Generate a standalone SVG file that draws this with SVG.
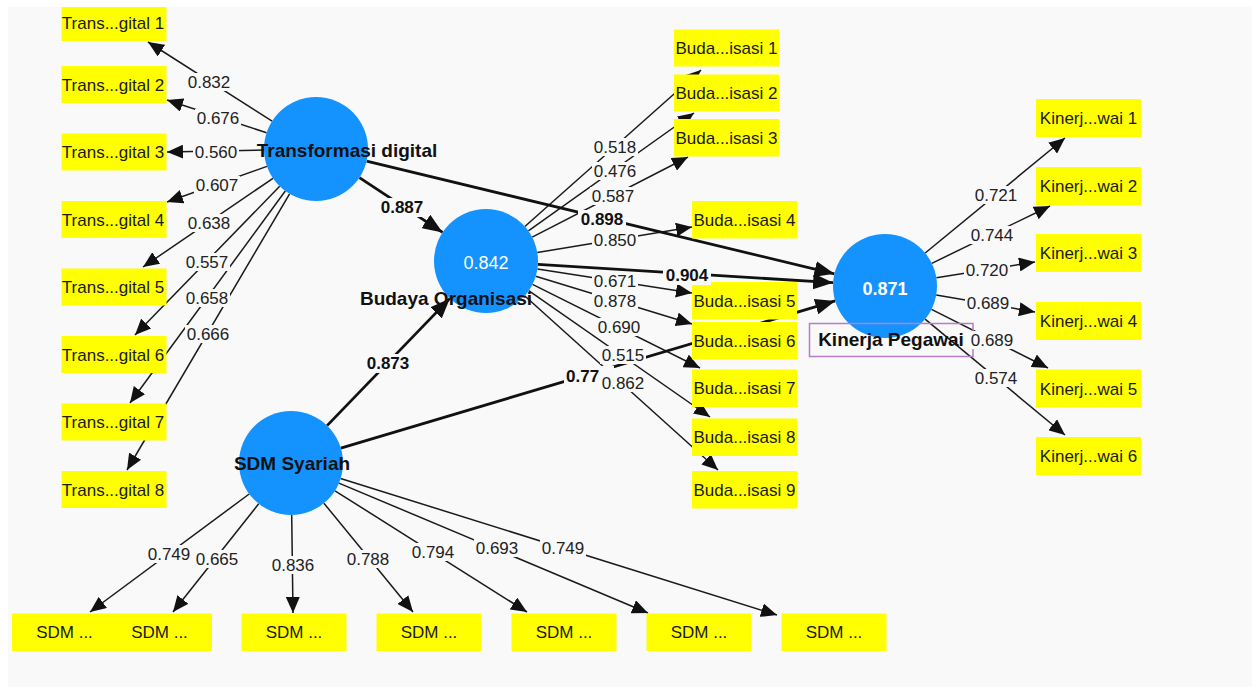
<svg xmlns="http://www.w3.org/2000/svg" width="1253" height="687" viewBox="0 0 1253 687">
<style>
.ind{fill:#ffff00}
.it{font-family:"Liberation Sans",Arial,sans-serif;font-size:17px;fill:#1a1a1a;text-anchor:middle}
.lv{fill:#1493ff}
.nm{font-family:"Liberation Sans",Arial,sans-serif;font-size:19px;font-weight:bold;fill:#111;text-anchor:middle}
.r2{font-family:"Liberation Sans",Arial,sans-serif;font-size:18px;fill:#fff;text-anchor:middle}
.ln{stroke:#1a1a1a;stroke-width:1.5;fill:none;marker-end:url(#ah)}
.lb{stroke:#111;stroke-width:2.8;fill:none;marker-end:url(#ahb)}
.bg{fill:#f9f9f9}
.lab{font-family:"Liberation Sans",Arial,sans-serif;font-size:17px;fill:#222;text-anchor:middle}
.labb{font-family:"Liberation Sans",Arial,sans-serif;font-size:17px;font-weight:bold;fill:#111;text-anchor:middle}
</style>
<defs>
<marker id="ah" markerUnits="userSpaceOnUse" markerWidth="16" markerHeight="14" refX="16" refY="7" orient="auto"><path d="M0,0 L16,7 L0,14 z" fill="#111"/></marker>
<marker id="ahb" markerUnits="userSpaceOnUse" markerWidth="20" markerHeight="16" refX="20" refY="8" orient="auto"><path d="M0,0 L20,8 L0,16 z" fill="#111"/></marker>
</defs>
<rect x="8" y="7" width="1244" height="680" fill="#f9f9f9"/>
<g id="connectors">
<line class="ln" x1="272.1" y1="121.1" x2="148" y2="42"/>
<line class="ln" x1="266.6" y1="132.8" x2="167" y2="100"/>
<line class="ln" x1="264" y1="150" x2="167" y2="152"/>
<line class="ln" x1="267" y1="166.4" x2="167" y2="202"/>
<line class="ln" x1="273" y1="178.3" x2="143" y2="267"/>
<line class="ln" x1="279.7" y1="186.3" x2="135" y2="335"/>
<line class="ln" x1="285.3" y1="191" x2="130" y2="403"/>
<line class="ln" x1="289.6" y1="193.8" x2="127" y2="470"/>
<line class="ln" x1="524.9" y1="226.5" x2="701" y2="70"/>
<line class="ln" x1="528.4" y1="230.9" x2="694" y2="113"/>
<line class="ln" x1="532.2" y1="237.2" x2="688" y2="157"/>
<line class="ln" x1="537.3" y1="252.5" x2="692" y2="227"/>
<line class="ln" x1="537.4" y1="269" x2="692" y2="293"/>
<line class="ln" x1="535.7" y1="276.2" x2="692" y2="324"/>
<line class="ln" x1="532.5" y1="284.3" x2="700" y2="368"/>
<line class="ln" x1="528.7" y1="290.7" x2="710" y2="417"/>
<line class="ln" x1="524.6" y1="295.8" x2="718" y2="470"/>
<line class="ln" x1="925.2" y1="253" x2="1065" y2="138"/>
<line class="ln" x1="931.8" y1="263.3" x2="1050" y2="206"/>
<line class="ln" x1="936.4" y1="277.8" x2="1035" y2="262"/>
<line class="ln" x1="936.2" y1="294.9" x2="1035" y2="312"/>
<line class="ln" x1="931.5" y1="309.4" x2="1048" y2="368"/>
<line class="ln" x1="925.1" y1="319.2" x2="1065" y2="435"/>
<line class="ln" x1="249.2" y1="494" x2="90" y2="612"/>
<line class="ln" x1="258.7" y1="503.8" x2="173" y2="612"/>
<line class="ln" x1="291.7" y1="515" x2="293" y2="613"/>
<line class="ln" x1="323.9" y1="503.2" x2="413" y2="612"/>
<line class="ln" x1="335" y1="490.8" x2="527" y2="612"/>
<line class="ln" x1="338.9" y1="483.1" x2="648" y2="613"/>
<line class="ln" x1="340.6" y1="478.5" x2="777" y2="615"/>
<line class="lb" x1="359.4" y1="177.6" x2="442.6" y2="232.4"/>
<line class="lb" x1="366.6" y1="161.2" x2="834.4" y2="273.8"/>
<line class="lb" x1="537.9" y1="264.3" x2="833.1" y2="282.7"/>
<line class="lb" x1="327.1" y1="425.6" x2="449.9" y2="298.4"/>
<line class="lb" x1="340.8" y1="448.1" x2="835.2" y2="300.9"/>
</g>
<g id="node-budaya-indicators">
<g id="buda1"><rect class="ind" x="674" y="29.5" width="105" height="37"/><text class="it" x="726.5" y="54">Buda...isasi 1</text></g>
<g id="buda2"><rect class="ind" x="674" y="74.5" width="105" height="37"/><text class="it" x="726.5" y="99">Buda...isasi 2</text></g>
<g id="buda3"><rect class="ind" x="674" y="119" width="105" height="37.5"/><text class="it" x="726.5" y="143.5">Buda...isasi 3</text></g>
<g id="buda4"><rect class="ind" x="692" y="201" width="105" height="37.5"/><text class="it" x="744.5" y="225.5">Buda...isasi 4</text></g>
<g id="buda5"><rect class="ind" x="692" y="282" width="105" height="37.5"/><text class="it" x="744.5" y="306.5">Buda...isasi 5</text></g>
<g id="buda6"><rect class="ind" x="692" y="322" width="105" height="37.5"/><text class="it" x="744.5" y="346.5">Buda...isasi 6</text></g>
<g id="buda7"><rect class="ind" x="692" y="369.5" width="105" height="37.5"/><text class="it" x="744.5" y="394">Buda...isasi 7</text></g>
<g id="buda8"><rect class="ind" x="692" y="418.5" width="105" height="37.5"/><text class="it" x="744.5" y="443">Buda...isasi 8</text></g>
<g id="buda9"><rect class="ind" x="692" y="471" width="105" height="37.5"/><text class="it" x="744.5" y="495.5">Buda...isasi 9</text></g>
</g>
<g id="node-trans-indicators">
<g id="trans1"><rect class="ind" x="61.5" y="7" width="105" height="34"/><text class="it" x="113" y="29">Trans...gital 1</text></g>
<g id="trans2"><rect class="ind" x="61.5" y="66" width="105" height="37"/><text class="it" x="113" y="90.5">Trans...gital 2</text></g>
<g id="trans3"><rect class="ind" x="61.5" y="133.5" width="105" height="37"/><text class="it" x="113" y="158">Trans...gital 3</text></g>
<g id="trans4"><rect class="ind" x="61.5" y="201" width="105" height="37"/><text class="it" x="113" y="225.5">Trans...gital 4</text></g>
<g id="trans5"><rect class="ind" x="61.5" y="268.5" width="105" height="37"/><text class="it" x="113" y="293">Trans...gital 5</text></g>
<g id="trans6"><rect class="ind" x="61.5" y="336" width="105" height="37"/><text class="it" x="113" y="360.5">Trans...gital 6</text></g>
<g id="trans7"><rect class="ind" x="61.5" y="403.5" width="105" height="37"/><text class="it" x="113" y="428">Trans...gital 7</text></g>
<g id="trans8"><rect class="ind" x="61.5" y="471" width="105" height="37"/><text class="it" x="113" y="495.5">Trans...gital 8</text></g>
</g>
<g id="node-kinerja-indicators">
<g id="kin1"><rect class="ind" x="1036" y="99" width="105" height="38"/><text class="it" x="1088.5" y="124">Kinerj...wai 1</text></g>
<g id="kin2"><rect class="ind" x="1036" y="167" width="105" height="38"/><text class="it" x="1088.5" y="192">Kinerj...wai 2</text></g>
<g id="kin3"><rect class="ind" x="1036" y="234" width="105" height="38"/><text class="it" x="1088.5" y="259">Kinerj...wai 3</text></g>
<g id="kin4"><rect class="ind" x="1036" y="302" width="105" height="38"/><text class="it" x="1088.5" y="327">Kinerj...wai 4</text></g>
<g id="kin5"><rect class="ind" x="1036" y="369.5" width="105" height="38"/><text class="it" x="1088.5" y="394.5">Kinerj...wai 5</text></g>
<g id="kin6"><rect class="ind" x="1036" y="437" width="105" height="38"/><text class="it" x="1088.5" y="462">Kinerj...wai 6</text></g>
</g>
<g id="node-sdm-indicators">
<g id="sdm1"><rect class="ind" x="12" y="613.5" width="105" height="37.5"/><text class="it" x="64.5" y="638">SDM ...</text></g>
<g id="sdm2"><rect class="ind" x="107" y="613.5" width="105" height="37.5"/><text class="it" x="159.5" y="638">SDM ...</text></g>
<g id="sdm3"><rect class="ind" x="241.5" y="613.5" width="105" height="37.5"/><text class="it" x="294" y="638">SDM ...</text></g>
<g id="sdm4"><rect class="ind" x="376.5" y="613.5" width="105" height="37.5"/><text class="it" x="429" y="638">SDM ...</text></g>
<g id="sdm5"><rect class="ind" x="511.5" y="613.5" width="105" height="37.5"/><text class="it" x="564" y="638">SDM ...</text></g>
<g id="sdm6"><rect class="ind" x="646.5" y="613.5" width="105" height="37.5"/><text class="it" x="699" y="638">SDM ...</text></g>
<g id="sdm7"><rect class="ind" x="781.5" y="613.5" width="105" height="37.5"/><text class="it" x="834" y="638">SDM ...</text></g>
</g>
<g id="node-transformasi-digital"><circle class="lv" cx="316" cy="149" r="52"/><text class="nm" x="347" y="157">Transformasi digital</text></g>
<g id="node-budaya-organisasi"><circle class="lv" cx="486" cy="261" r="52"/><text class="r2" x="486" y="269">0.842</text><text class="nm" x="446" y="305">Budaya Organisasi</text></g>
<g id="node-kinerja-pegawai"><circle class="lv" cx="885" cy="286" r="52"/><text class="r2" x="885" y="295" font-weight="bold">0.871</text><rect x="809.5" y="323.5" width="163.5" height="33" fill="none" stroke="#b77ccb" stroke-width="1.5"/><text class="nm" x="891" y="346">Kinerja Pegawai</text></g>
<g id="node-sdm-syariah"><circle class="lv" cx="291" cy="463" r="52"/><text class="nm" x="292" y="470">SDM Syariah</text></g>
<g id="connector-labels">
<rect class="bg" x="378" y="198" width="48" height="19"/><text class="labb" x="402" y="213">0.887</text>
<rect class="bg" x="578" y="210" width="48" height="19"/><text class="labb" x="602" y="225">0.898</text>
<rect class="bg" x="663" y="266" width="48" height="19"/><text class="labb" x="687" y="281">0.904</text>
<rect class="bg" x="364" y="354" width="48" height="19"/><text class="labb" x="388" y="369">0.873</text>
<rect class="bg" x="564" y="366" width="50" height="19"/><text class="labb" x="566" y="382" style="text-anchor:start">0.77</text>
<rect class="bg" x="186" y="73" width="46" height="18"/><text class="lab" x="209" y="88">0.832</text>
<rect class="bg" x="195" y="109" width="46" height="18"/><text class="lab" x="218" y="124">0.676</text>
<rect class="bg" x="193" y="143" width="46" height="18"/><text class="lab" x="216" y="158">0.560</text>
<rect class="bg" x="194" y="176" width="46" height="18"/><text class="lab" x="217" y="191">0.607</text>
<rect class="bg" x="186" y="214" width="46" height="18"/><text class="lab" x="209" y="229">0.638</text>
<rect class="bg" x="184" y="253" width="46" height="18"/><text class="lab" x="207" y="268">0.557</text>
<rect class="bg" x="184" y="289" width="46" height="18"/><text class="lab" x="207" y="304">0.658</text>
<rect class="bg" x="185" y="325" width="46" height="18"/><text class="lab" x="208" y="340">0.666</text>
<rect class="bg" x="592" y="138" width="46" height="18"/><text class="lab" x="615" y="153">0.518</text>
<rect class="bg" x="592" y="162" width="46" height="18"/><text class="lab" x="615" y="177">0.476</text>
<rect class="bg" x="590" y="187" width="46" height="18"/><text class="lab" x="613" y="202">0.587</text>
<rect class="bg" x="592" y="231" width="46" height="18"/><text class="lab" x="615" y="246">0.850</text>
<rect class="bg" x="592" y="272" width="46" height="18"/><text class="lab" x="615" y="287">0.671</text>
<rect class="bg" x="592" y="292" width="46" height="18"/><text class="lab" x="615" y="307">0.878</text>
<rect class="bg" x="596" y="318" width="46" height="18"/><text class="lab" x="619" y="333">0.690</text>
<rect class="bg" x="600" y="346" width="46" height="18"/><text class="lab" x="623" y="361">0.515</text>
<rect class="bg" x="600" y="374" width="46" height="18"/><text class="lab" x="623" y="389">0.862</text>
<rect class="bg" x="973" y="186" width="46" height="18"/><text class="lab" x="996" y="201">0.721</text>
<rect class="bg" x="969" y="226" width="46" height="18"/><text class="lab" x="992" y="241">0.744</text>
<rect class="bg" x="964" y="261" width="46" height="18"/><text class="lab" x="987" y="276">0.720</text>
<rect class="bg" x="965" y="294" width="46" height="18"/><text class="lab" x="988" y="309">0.689</text>
<rect class="bg" x="969" y="331" width="46" height="18"/><text class="lab" x="992" y="346">0.689</text>
<rect class="bg" x="973" y="369" width="46" height="18"/><text class="lab" x="996" y="384">0.574</text>
<rect class="bg" x="146" y="545" width="46" height="18"/><text class="lab" x="169" y="560">0.749</text>
<rect class="bg" x="194" y="550" width="46" height="18"/><text class="lab" x="217" y="565">0.665</text>
<rect class="bg" x="270" y="556" width="46" height="18"/><text class="lab" x="293" y="571">0.836</text>
<rect class="bg" x="345" y="550" width="46" height="18"/><text class="lab" x="368" y="565">0.788</text>
<rect class="bg" x="410" y="543" width="46" height="18"/><text class="lab" x="433" y="558">0.794</text>
<rect class="bg" x="474" y="539" width="46" height="18"/><text class="lab" x="497" y="554">0.693</text>
<rect class="bg" x="540" y="539" width="46" height="18"/><text class="lab" x="563" y="554">0.749</text>
</g>
</svg>
